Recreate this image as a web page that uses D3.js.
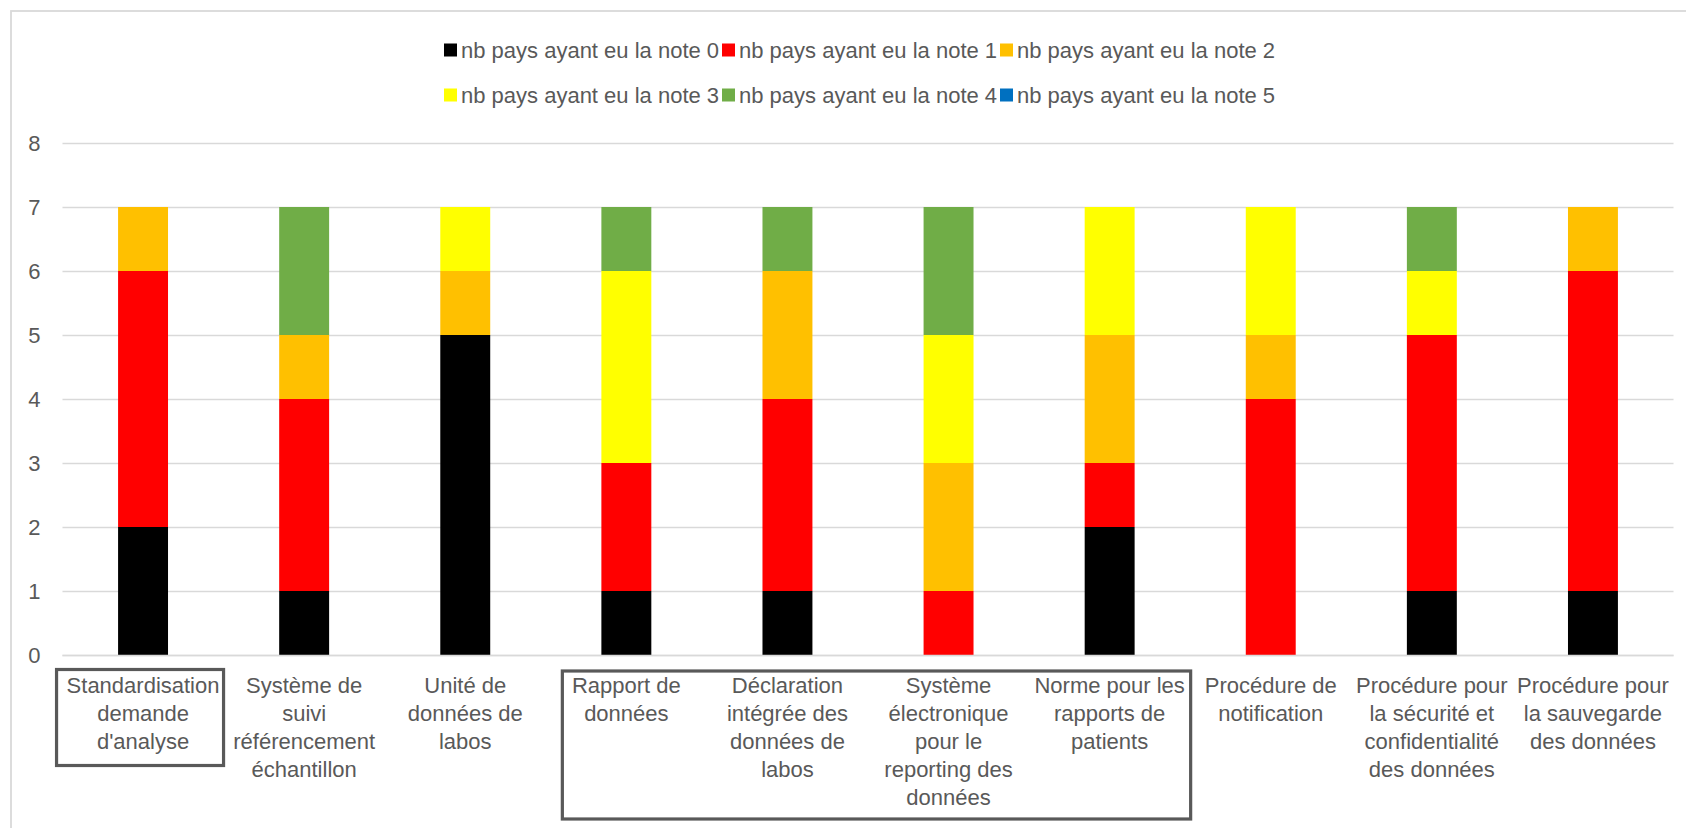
<!DOCTYPE html>
<html>
<head>
<meta charset="utf-8">
<script src="https://cdn.jsdelivr.net/npm/d3@7"></script>
<style>
  html, body { margin: 0; padding: 0; background: #fff; }
  svg { display: block; font-family: "Liberation Sans", Arial, sans-serif; }
</style>
</head>
<body>
<svg id="chart" width="1686" height="828"></svg>
<script>
// Categories (each label already split into its display lines)
const categories = [
  ["Standardisation", "demande", "d'analyse"],
  ["Système de", "suivi", "référencement", "échantillon"],
  ["Unité de", "données de", "labos"],
  ["Rapport de", "données"],
  ["Déclaration", "intégrée des", "données de", "labos"],
  ["Système", "électronique", "pour le", "reporting des", "données"],
  ["Norme pour les", "rapports de", "patients"],
  ["Procédure de", "notification"],
  ["Procédure pour", "la sécurité et", "confidentialité", "des données"],
  ["Procédure pour", "la sauvegarde", "des données"]
];

// Number of countries per score, one array per score (0..5)
const note0 = [2, 1, 5, 1, 1, 0, 2, 0, 1, 1];
const note1 = [4, 3, 0, 2, 3, 1, 1, 4, 4, 5];
const note2 = [1, 1, 1, 0, 2, 2, 2, 1, 0, 1];
const note3 = [0, 0, 1, 3, 0, 2, 2, 2, 1, 0];
const note4 = [0, 2, 0, 1, 1, 2, 0, 0, 1, 0];
const note5 = [0, 0, 0, 0, 0, 0, 0, 0, 0, 0];

const seriesNames = [
  "nb pays ayant eu la note 0",
  "nb pays ayant eu la note 1",
  "nb pays ayant eu la note 2",
  "nb pays ayant eu la note 3",
  "nb pays ayant eu la note 4",
  "nb pays ayant eu la note 5"
];
const seriesColors = ["#000000", "#FF0000", "#FFC000", "#FFFF00", "#70AD47", "#0070C0"];

const yTicks = [0, 1, 2, 3, 4, 5, 6, 7, 8];

// Groups of categories outlined with a frame below the axis
const framedGroups = [
  { from: 0, to: 0, left: 86.5, right: 80.5, top: 669.5, bottom: 765.5 },
  { from: 3, to: 6, left: 64, right: 81, top: 671, bottom: 819 }
];

const svg = d3.select("#chart");
const plot = { left: 62.5, right: 1673.5, top: 143, bottom: 655 };
const textColor = "#595959";
const gridColor = "#D9D9D9";

// Outer chart frame (runs past the right and bottom edges)
svg.append("rect")
  .attr("x", 11).attr("y", 11)
  .attr("width", 1700).attr("height", 850)
  .attr("fill", "none").attr("stroke", gridColor).attr("stroke-width", 1.8);

const idx = d3.range(categories.length);
const x = d3.scaleBand()
  .domain(idx)
  .range([plot.left, plot.right])
  .paddingInner(0.69)
  .paddingOuter(0.345);

const y = d3.scaleLinear()
  .domain([0, 8])
  .range([plot.bottom, plot.top]);

// Gridlines + y-axis labels
const yAxis = d3.axisLeft(y)
  .tickValues(yTicks)
  .tickSize(-(plot.right - plot.left))
  .tickPadding(22)
  .tickFormat(d3.format("d"));

const gy = svg.append("g")
  .attr("transform", `translate(${plot.left},0)`)
  .call(yAxis);
gy.select(".domain").remove();
gy.selectAll(".tick line").attr("stroke", gridColor).attr("stroke-width", 1.3);
gy.selectAll(".tick text")
  .attr("fill", textColor)
  .style("font-size", "22px")
  .style("font-family", "'Liberation Sans', Arial, sans-serif");

// Stacked bars
const rows = idx.map(i => ({
  i,
  n0: note0[i], n1: note1[i], n2: note2[i], n3: note3[i], n4: note4[i], n5: note5[i]
}));
const keys = ["n0", "n1", "n2", "n3", "n4", "n5"];
const stacked = d3.stack().keys(keys)(rows);

svg.append("g")
  .selectAll("g")
  .data(stacked)
  .join("g")
  .attr("fill", (d, k) => seriesColors[k])
  .selectAll("rect")
  .data(d => d.filter(s => s[1] - s[0] > 0))
  .join("rect")
  .attr("x", s => x(s.data.i))
  .attr("width", x.bandwidth())
  .attr("y", s => y(s[1]))
  .attr("height", s => y(s[0]) - y(s[1]));

// Category axis line
svg.append("line")
  .attr("x1", plot.left).attr("x2", plot.right)
  .attr("y1", y(0) + 0.5).attr("y2", y(0) + 0.5)
  .attr("stroke", gridColor).attr("stroke-width", 1.3);

// Category labels
const lineGap = 28;
const labels = svg.append("g")
  .attr("fill", textColor)
  .style("font-size", "22px")
  .attr("text-anchor", "middle");
idx.forEach(i => {
  const cx = x(i) + x.bandwidth() / 2;
  const t = labels.append("text")
    .attr("x", cx)
    .attr("y", y(0) + 38);
  categories[i].forEach((line, j) => {
    t.append("tspan")
      .attr("x", cx)
      .attr("dy", j === 0 ? 0 : lineGap)
      .text(line);
  });
});

// Frames around grouped labels
framedGroups.forEach(g => {
  const x0 = x(g.from) + x.bandwidth() / 2 - g.left;
  const x1 = x(g.to) + x.bandwidth() / 2 + g.right;
  svg.append("rect")
    .attr("x", x0).attr("y", g.top)
    .attr("width", x1 - x0).attr("height", g.bottom - g.top)
    .attr("fill", "none")
    .attr("stroke", "#595959")
    .attr("stroke-width", 3.2);
});

// Legend: two rows of three entries
const legend = svg.append("g").style("font-size", "22px");
const legendX0 = 444, entryW = 278, rowY = [50, 95], sw = 13;
seriesNames.forEach((name, k) => {
  const r = Math.floor(k / 3), c = k % 3;
  const gx = legendX0 + c * entryW;
  const item = legend.append("g").attr("transform", `translate(${gx},${rowY[r]})`);
  item.append("rect")
    .attr("x", 0).attr("y", -sw / 2)
    .attr("width", sw).attr("height", sw)
    .attr("fill", seriesColors[k]);
  item.append("text")
    .attr("x", sw + 4)
    .attr("y", 0)
    .attr("dy", "0.35em")
    .attr("fill", textColor)
    .text(name);
});
</script>
</body>
</html>
